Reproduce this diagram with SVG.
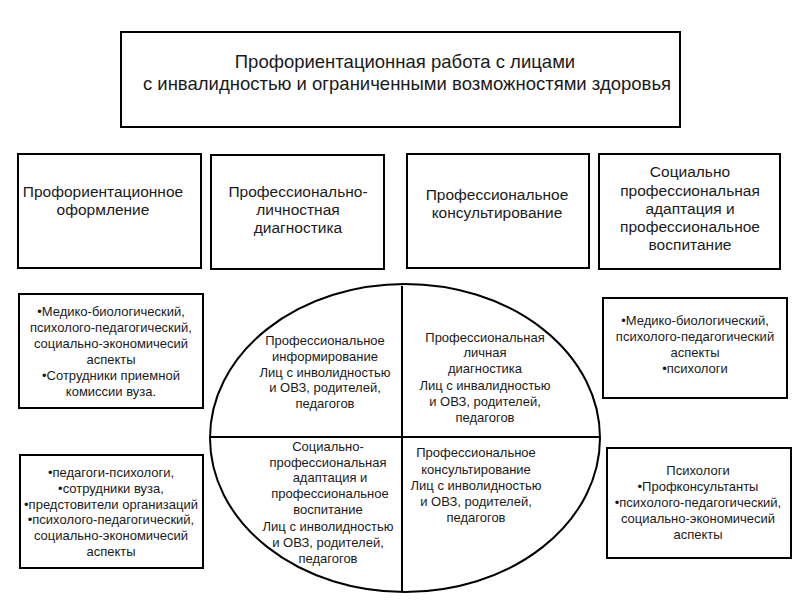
<svg xmlns="http://www.w3.org/2000/svg" width="800" height="600" viewBox="0 0 800 600">
<style>
.box{fill:#fff;stroke:#000;stroke-width:2}
.ln{stroke:#000;stroke-width:2;fill:none}
text{font-family:"Liberation Sans",Arial,sans-serif;fill:#1a1a1a;text-anchor:middle}
.t{font-size:18.5px}
.h{font-size:15.5px}
.s{font-size:13px}
</style>
<rect width="800" height="600" fill="#fff"/>
<g id="title">
<rect class="box" x="121" y="32" width="559" height="95"/>
<text class="t" x="405" y="68">Профориентационная работа с лицами</text>
<text class="t" x="407" y="90">с инвалидностью и ограниченными возможностями здоровья</text>
</g>
<g id="box1">
<rect class="box" x="18" y="154" width="183" height="114"/>
<text class="h" x="103" y="197">Профориентационное</text>
<text class="h" x="103" y="215">оформление</text>
</g>
<g id="box2">
<rect class="box" x="211" y="155" width="173" height="114"/>
<text class="h" x="298" y="197">Профессионально-</text>
<text class="h" x="298" y="215">личностная</text>
<text class="h" x="298" y="233">диагностика</text>
</g>
<g id="box3">
<rect class="box" x="407" y="154" width="182" height="114"/>
<text class="h" x="497" y="200">Профессиональное</text>
<text class="h" x="497" y="218">консультирование</text>
</g>
<g id="box4">
<rect class="box" x="599" y="154" width="181" height="115"/>
<text class="h" x="690" y="177">Социально</text>
<text class="h" x="690" y="196">профессиональная</text>
<text class="h" x="690" y="214">адаптация и</text>
<text class="h" x="690" y="232">профессиональное</text>
<text class="h" x="690" y="250">воспитание</text>
</g>
<g id="left1">
<rect class="box" x="19" y="294" width="184" height="114"/>
<text class="s" x="111" y="316">•Медико-биологический,</text>
<text class="s" x="111" y="332">психолого-педагогический,</text>
<text class="s" x="111" y="348">социально-экономичесий</text>
<text class="s" x="111" y="364">аспекты</text>
<text class="s" x="111" y="380">•Сотрудники приемной</text>
<text class="s" x="111" y="396">комиссии вуза.</text>
</g>
<g id="left2">
<rect class="box" x="20" y="455" width="183" height="113"/>
<text class="s" x="111" y="477">•педагоги-психологи,</text>
<text class="s" x="111" y="493">•сотрудники вуза,</text>
<text class="s" x="111" y="509">•предстовители организаций</text>
<text class="s" x="111" y="524">•психолого-педагогический,</text>
<text class="s" x="111" y="540">социально-экономичесий</text>
<text class="s" x="111" y="556">аспекты</text>
</g>
<g id="right1">
<rect class="box" x="603" y="298" width="184" height="100"/>
<text class="s" x="695" y="325">•Медико-биологический,</text>
<text class="s" x="695" y="341">психолого-педагогический</text>
<text class="s" x="695" y="357">аспекты</text>
<text class="s" x="695" y="373">•психологи</text>
</g>
<g id="right2">
<rect class="box" x="607" y="448" width="184" height="110"/>
<text class="s" x="698" y="475">Психологи</text>
<text class="s" x="698" y="491">•Профконсультанты</text>
<text class="s" x="698" y="507">•психолого-педагогический,</text>
<text class="s" x="698" y="523">социально-экономичесий</text>
<text class="s" x="698" y="539">аспекты</text>
</g>
<g id="circle">
<ellipse class="ln" cx="405" cy="438" rx="195" ry="154"/>
<line class="ln" x1="402" y1="286" x2="402" y2="591"/>
<line class="ln" x1="211" y1="437" x2="599" y2="437"/>
</g>
<g id="q1">
<text class="s" x="325" y="345">Профессиональное</text>
<text class="s" x="325" y="361">информирование</text>
<text class="s" x="325" y="377">Лиц с инволидностью</text>
<text class="s" x="325" y="392">и ОВЗ, родителей,</text>
<text class="s" x="325" y="408">педагогов</text>
</g>
<g id="q2">
<text class="s" x="485" y="342">Профессиональная</text>
<text class="s" x="485" y="357">личная</text>
<text class="s" x="485" y="373">диагностика</text>
<text class="s" x="485" y="390">Лиц с инвалидностью</text>
<text class="s" x="485" y="406">и ОВЗ, родителей,</text>
<text class="s" x="485" y="422">педагогов</text>
</g>
<g id="q3">
<text class="s" x="328" y="451">Социально-</text>
<text class="s" x="328" y="467">профессиональная</text>
<text class="s" x="330" y="482">адаптация и</text>
<text class="s" x="330" y="498">профессиональное</text>
<text class="s" x="328" y="514">воспитание</text>
<text class="s" x="328" y="531">Лиц с инволидностью</text>
<text class="s" x="328" y="547">и ОВЗ, родителей,</text>
<text class="s" x="328" y="563">педагогов</text>
</g>
<g id="q4">
<text class="s" x="476" y="457">Профессиональное</text>
<text class="s" x="476" y="474">консультирование</text>
<text class="s" x="476" y="490">Лиц с инволидностью</text>
<text class="s" x="476" y="506">и ОВЗ, родителей,</text>
<text class="s" x="476" y="522">педагогов</text>
</g>
</svg>
